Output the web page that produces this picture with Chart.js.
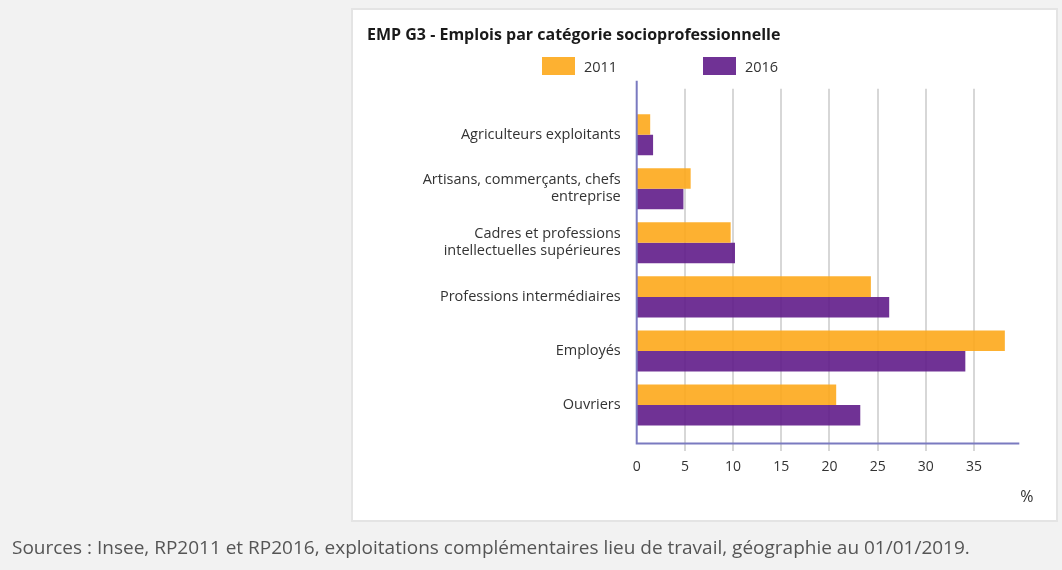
<!DOCTYPE html>
<html lang="fr">
<head>
<meta charset="utf-8">
<title>EMP G3 - Emplois par catégorie socioprofessionnelle</title>
<script src="https://cdn.jsdelivr.net/npm/chart.js@4.4.1/dist/chart.umd.min.js"></script>
<style>
  html, body { margin: 0; padding: 0; }
  body {
    width: 1062px; height: 570px; position: relative; overflow: hidden;
    background: #f2f2f2; font-family: "Open Sans", sans-serif;
  }
  .panel {
    position: absolute; left: 351px; top: 8px; width: 703px; height: 510px;
    background: #fff; border: 2px solid #e4e4e4;
  }
  #chart { position: absolute; left: 0; top: 0; }
  .legend-item {
    position: absolute; top: 57px; height: 18px; display: flex; align-items: center;
    font-size: 14.5px; color: #333;
  }
  .legend-item .swatch { width: 33px; height: 18px; margin-right: 9px; }
  .source {
    position: absolute; left: 12px; top: 534px;
    font-size: 19px; color: #555;
  }
</style>
</head>
<body>
<div class="panel"></div>
<canvas id="chart" width="1062" height="570"></canvas>
<div id="legend"></div>
<div class="source">Sources : Insee, RP2011 et RP2016, exploitations complémentaires lieu de travail, géographie au 01/01/2019.</div>

<script>
// Part des emplois (%) par catégorie socioprofessionnelle
const categories = [
    'Agriculteurs exploitants',
    ['Artisans, commerçants, chefs', 'entreprise'],
    ['Cadres et professions', 'intellectuelles supérieures'],
    'Professions intermédiaires',
    'Employés',
    'Ouvriers'
];
const years = ['2011', '2016'];
const values2011 = [1.4, 5.6, 9.75, 24.3, 38.2, 20.7];
const values2016 = [1.7, 4.85, 10.2, 26.2, 34.1, 23.2];
const xTicks = [0, 5, 10, 15, 20, 25, 30, 35];
const xMax = 39.7;

const ORANGE = 'rgba(253, 169, 27, 0.9)';
const PURPLE = 'rgba(96, 28, 138, 0.9)';
const AXIS_COLOR = '#7a7ac0';
const GRID_COLOR = 'rgba(205, 205, 205, 0.8)';

// Grid lines and axis lines run a bit past the plot area, so they are drawn by hand
const axesPlugin = {
    id: 'extendedAxes',
    beforeDatasetsDraw(chart) {
        const { ctx, chartArea, scales } = chart;
        ctx.save();
        ctx.strokeStyle = GRID_COLOR;
        ctx.lineWidth = 2;
        xTicks.forEach(v => {
            if (v === 0) return;
            const x = Math.round(scales.x.getPixelForValue(v));
            ctx.beginPath();
            ctx.moveTo(x, chartArea.top - 19);
            ctx.lineTo(x, chartArea.bottom + 19);
            ctx.stroke();
        });
        ctx.restore();
    },
    afterDatasetsDraw(chart) {
        const { ctx, chartArea, scales } = chart;
        const x0 = scales.x.getPixelForValue(0);
        const yAxis = chartArea.bottom + 11.5;
        ctx.save();
        ctx.strokeStyle = AXIS_COLOR;
        ctx.lineWidth = 2;
        ctx.beginPath();
        ctx.moveTo(x0, chartArea.top - 27);
        ctx.lineTo(x0, yAxis);
        ctx.lineTo(chartArea.right, yAxis);
        ctx.stroke();

        ctx.fillStyle = '#333';
        ctx.font = '16px "Open Sans"';
        ctx.textAlign = 'left';
        ctx.textBaseline = 'middle';
        ctx.fillText('%', chartArea.right + 1, chartArea.bottom + 65);
        ctx.restore();
    }
};

const chart = new Chart(document.getElementById('chart'), {
    type: 'bar',
    data: {
        labels: categories,
        datasets: [
            { label: years[0], data: values2011, backgroundColor: ORANGE },
            { label: years[1], data: values2016, backgroundColor: PURPLE }
        ]
    },
    options: {
        indexAxis: 'y',
        responsive: false,
        animation: false,
        layout: { padding: { left: 367, right: 42.7, top: 0, bottom: 0 } },
        datasets: { bar: { categoryPercentage: 0.76, barPercentage: 1.0 } },
        plugins: {
            legend: { display: false },
            tooltip: { enabled: false },
            title: {
                display: true,
                text: 'EMP G3 - Emplois par catégorie socioprofessionnelle',
                align: 'start',
                color: '#1a1a1a',
                font: { family: '"Open Sans"', size: 16, weight: 'bold' },
                padding: { top: 25.4, bottom: 63.1 }
            }
        },
        scales: {
            x: {
                min: 0,
                max: xMax,
                afterFit: s => { s.height = 138; },
                afterBuildTicks: s => { s.ticks = xTicks.map(v => ({ value: v })); },
                grid: { display: false, drawTicks: false },
                border: { display: false },
                ticks: {
                    padding: 27,
                    color: '#333',
                    font: { family: '"Open Sans"', size: 14 }
                }
            },
            y: {
                afterFit: s => { s.width = 269.7; },
                grid: { display: false, drawTicks: false },
                border: { display: false },
                ticks: {
                    padding: 16,
                    color: '#333',
                    font: { family: '"Open Sans"', size: 14.5, lineHeight: 1.17 }
                }
            }
        }
    },
    plugins: [axesPlugin]
});

// Legend built from the datasets
const legendLeft = [542, 703];
const legendEl = document.getElementById('legend');
chart.data.datasets.forEach((ds, i) => {
    const item = document.createElement('div');
    item.className = 'legend-item';
    item.style.left = legendLeft[i] + 'px';
    item.innerHTML = `<span class="swatch" style="background:${ds.backgroundColor}"></span>${ds.label}`;
    legendEl.appendChild(item);
});
</script>
</body>
</html>
